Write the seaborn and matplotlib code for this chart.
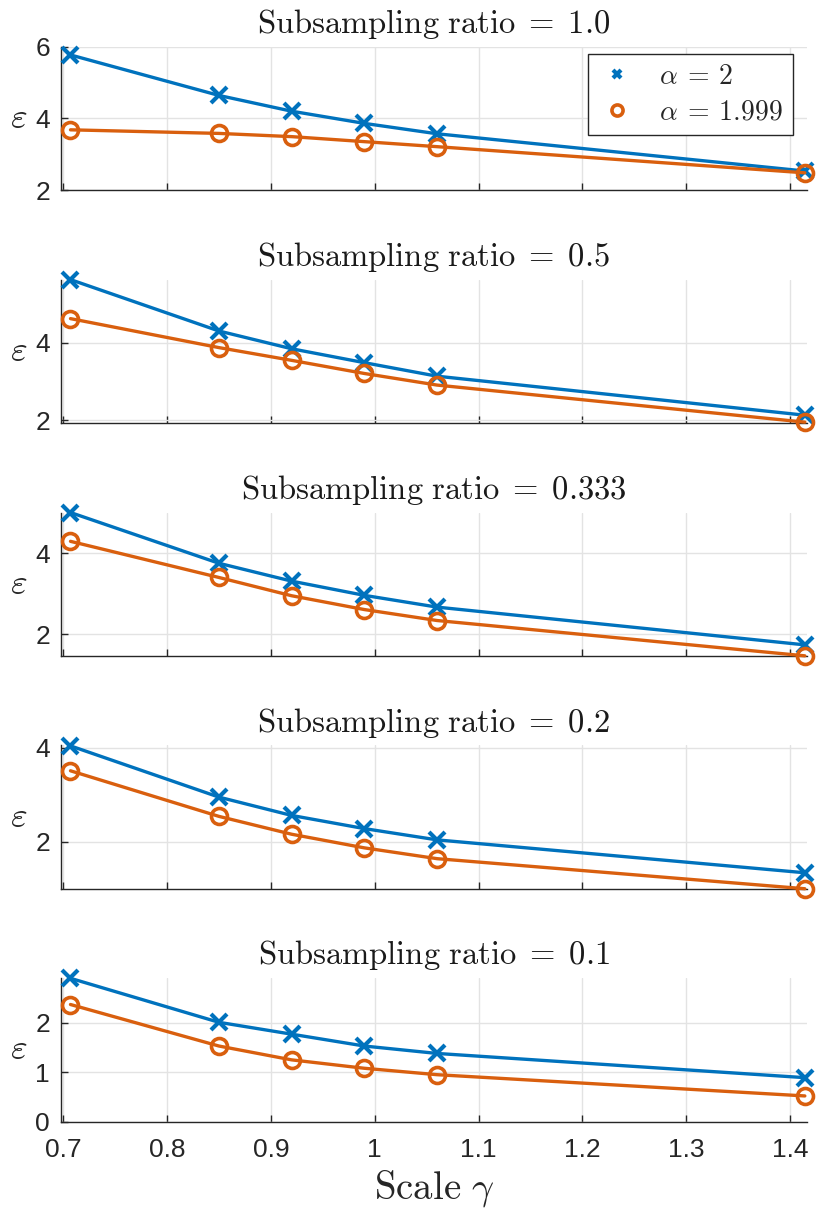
import numpy as np
import pandas as pd
import matplotlib
matplotlib.use("Agg")
import matplotlib.pyplot as plt
from matplotlib.lines import Line2D
import seaborn as sns

# Scale values (gamma) shared by every panel
scale = [0.7071, 0.85, 0.92, 0.99, 1.06, 1.4142]

ratios = ["1.0", "0.5", "0.333", "0.2", "0.1"]

# epsilon for alpha = 2, one list per subsampling ratio
eps_a2_r10 = [5.77, 4.64, 4.20, 3.86, 3.57, 2.53]
eps_a2_r05 = [5.64, 4.31, 3.85, 3.49, 3.14, 2.13]
eps_a2_r0333 = [5.00, 3.75, 3.31, 2.96, 2.67, 1.74]
eps_a2_r02 = [4.04, 2.95, 2.56, 2.28, 2.04, 1.34]
eps_a2_r01 = [2.90, 2.01, 1.77, 1.53, 1.38, 0.89]

# epsilon for alpha = 1.999
eps_a1999_r10 = [3.68, 3.58, 3.49, 3.35, 3.21, 2.48]
eps_a1999_r05 = [4.63, 3.88, 3.55, 3.21, 2.91, 1.95]
eps_a1999_r0333 = [4.29, 3.40, 2.95, 2.61, 2.34, 1.47]
eps_a1999_r02 = [3.51, 2.54, 2.16, 1.87, 1.64, 1.00]
eps_a1999_r01 = [2.37, 1.53, 1.25, 1.08, 0.95, 0.52]

series_a2 = [eps_a2_r10, eps_a2_r05, eps_a2_r0333, eps_a2_r02, eps_a2_r01]
series_a1999 = [eps_a1999_r10, eps_a1999_r05, eps_a1999_r0333, eps_a1999_r02, eps_a1999_r01]

# y-limits and ticks per panel
ylims = [(2, 6), (1.93, 5.64), (1.47, 5.0), (1.0, 4.05), (0, 2.9)]
yticks = [[2, 4, 6], [2, 4], [2, 4], [2, 4], [0, 1, 2]]
xticks = [0.7, 0.8, 0.9, 1.0, 1.1, 1.2, 1.3, 1.4]
xtick_labels = ["0.7", "0.8", "0.9", "1", "1.1", "1.2", "1.3", "1.4"]

BLUE = "#0072BD"
ORANGE = "#D95F0E"
AX = "#262626"

sns.set_theme(style="whitegrid")
plt.rcParams["font.family"] = ["Liberation Sans", "DejaVu Sans"]
plt.rcParams["mathtext.fontset"] = "cm"

fig, axes = plt.subplots(5, 1, figsize=(8.17, 12.16), dpi=100, sharex=True)
fig.subplots_adjust(left=0.0747, right=0.9874, top=0.9616, bottom=0.0776, hspace=0.625)

for i, ax in enumerate(axes):
    df = pd.DataFrame({
        "scale": scale * 2,
        "eps": series_a2[i] + series_a1999[i],
        "alpha": ["2"] * len(scale) + ["1.999"] * len(scale),
    })
    sns.lineplot(data=df[df.alpha == "2"], x="scale", y="eps", ax=ax, color=BLUE,
                 lw=2.4, marker="x", markersize=11, mew=3.0, mec=BLUE, legend=False,
                 clip_on=False, zorder=3)
    sns.lineplot(data=df[df.alpha == "1.999"], x="scale", y="eps", ax=ax, color=ORANGE,
                 lw=2.4, marker="o", markersize=11.5, mew=2.6, mec=ORANGE, mfc="none",
                 legend=False, clip_on=False, zorder=3)

    ax.set_xlim(0.698, 1.416)
    ax.set_ylim(*ylims[i])
    ax.set_yticks(yticks[i])
    ax.set_xticks(xticks)
    ax.set_xticklabels(xtick_labels)
    ax.set_facecolor("white")
    ax.grid(True, color="#e3e3e3", lw=1.0)
    for side in ["top", "right"]:
        ax.spines[side].set_visible(False)
    for side in ["left", "bottom"]:
        ax.spines[side].set_color(AX)
        ax.spines[side].set_linewidth(1.0)
    ax.tick_params(axis="both", direction="in", length=5, width=1.0, color=AX,
                   labelsize=19, labelcolor=AX, left=True, bottom=True)
    ax.tick_params(axis="y", pad=8)
    ax.tick_params(axis="x", pad=12)
    if i < 4:
        ax.tick_params(axis="x", labelbottom=False)
    ax.set_xlabel("")
    ax.set_ylabel(r"$\varepsilon$", fontsize=26, rotation=0, color=AX, labelpad=12,
                  va="center")
    ax.set_title(r"$\mathrm{Subsampling\ ratio}\;=\;%s$" % ratios[i], fontsize=23.5,
                 color="#1a1a1a", pad=10)

axes[-1].set_xlabel(r"$\mathrm{Scale}\ \gamma$", fontsize=28, color=AX, labelpad=4)

handles = [
    Line2D([], [], color=BLUE, lw=0, marker="x", markersize=6, mew=3.0, mec=BLUE),
    Line2D([], [], color=ORANGE, lw=0, marker="o", markersize=8, mew=2.6,
           mec=ORANGE, mfc="none"),
]
leg = axes[0].legend(handles, [r"$\alpha\:=\:2$", r"$\alpha\:=\:1.999$"], loc="upper right",
                     bbox_to_anchor=(0.981, 0.95), borderaxespad=0, fontsize=20,
                     frameon=True, fancybox=False, edgecolor=AX, framealpha=1.0,
                     borderpad=0.35, handletextpad=0.8, labelspacing=0.35,
                     handlelength=1.4)
leg.get_frame().set_linewidth(1.0)
leg.set_zorder(5)

fig.savefig("out.png", dpi=100, facecolor="white")
